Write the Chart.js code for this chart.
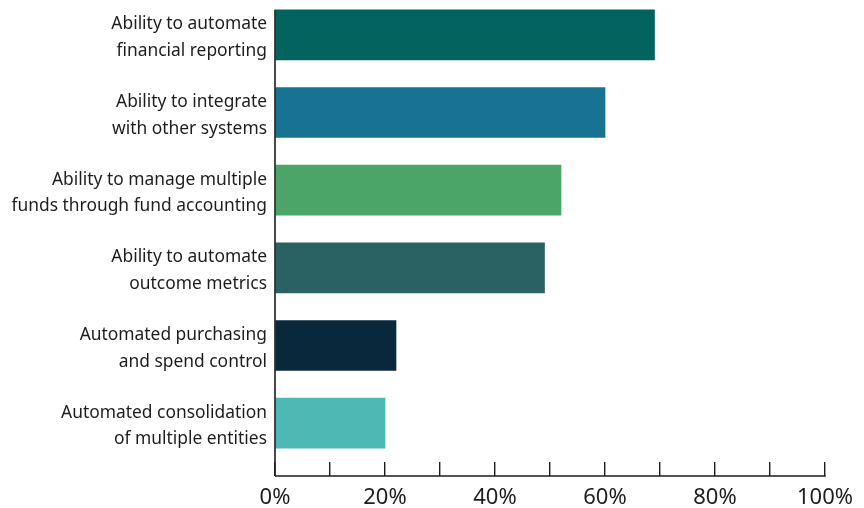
<!DOCTYPE html>
<html>
<head>
<meta charset="utf-8">
<script src="https://cdn.jsdelivr.net/npm/chart.js@4/dist/chart.umd.min.js"></script>
<style>
  html, body { margin: 0; padding: 0; background: #ffffff; overflow: hidden; }
  #wrap { position: absolute; left: 0; top: -4px; width: 864px; height: 512px; }
</style>
</head>
<body>
<div id="wrap"><canvas id="chart"></canvas></div>
<script>
// Capabilities and share of respondents (%)
const categories = [
  ["Ability to automate", "financial reporting"],
  ["Ability to integrate", "with other systems"],
  ["Ability to manage multiple", "funds through fund accounting"],
  ["Ability to automate", "outcome metrics"],
  ["Automated purchasing", "and spend control"],
  ["Automated consolidation", "of multiple entities"]
];
const shares = [69, 60, 52, 49, 22, 20];
const barColors = ["#03635E", "#187292", "#4BA568", "#2A6162", "#0A283C", "#4EB8B4"];
const labelledTicks = [0, 20, 40, 60, 80, 100];

const INK = "#1d1d1b";
const TICK_LEN = 14;

// Axis lines: the vertical one starts at the first bar, the horizontal one sits at the tick ends
const axisLines = {
  id: "axisLines",
  afterDraw(chart) {
    const { ctx, chartArea } = chart;
    const first = chart.getDatasetMeta(0).data[0];
    const top = first.y - first.height / 2;
    const base = chartArea.bottom + TICK_LEN;
    ctx.save();
    ctx.strokeStyle = INK;
    ctx.lineWidth = 1.6;
    ctx.beginPath();
    ctx.moveTo(chartArea.left, top);
    ctx.lineTo(chartArea.left, base);
    ctx.moveTo(chartArea.left, base);
    ctx.lineTo(chartArea.right + 0.8, base);
    ctx.stroke();
    ctx.restore();
  }
};

new Chart(document.getElementById("chart"), {
  type: "bar",
  data: {
    labels: categories,
    datasets: [{
      data: shares,
      backgroundColor: barColors,
      borderWidth: 0,
      barThickness: 50
    }]
  },
  options: {
    indexAxis: "y",
    responsive: true,
    maintainAspectRatio: false,
    animation: false,
    layout: { padding: { left: 0, right: 39, top: 0, bottom: 0 } },
    plugins: { legend: { display: false }, tooltip: { enabled: false } },
    scales: {
      x: {
        min: 0,
        max: 100,
        afterFit(scale) { scale.height = 46; },
        border: { display: false },
        grid: {
          drawOnChartArea: false,
          drawTicks: true,
          tickLength: TICK_LEN,
          color: INK,
          lineWidth: 1.4
        },
        ticks: {
          stepSize: 10,
          padding: 9,
          maxRotation: 0,
          autoSkip: false,
          color: INK,
          font: { family: "'Noto Sans', sans-serif", size: 22 },
          callback: (v) => labelledTicks.includes(v) ? v + "%" : ""
        }
      },
      y: {
        afterFit(scale) {
          scale.width = 275;
          scale.paddingTop = 0;
          scale.paddingBottom = 0;
        },
        border: { display: false },
        grid: { display: false, drawTicks: false },
        ticks: {
          padding: 8,
          labelOffset: 3,
          color: INK,
          font: { family: "'Noto Sans', sans-serif", size: 17.4, lineHeight: 1.53 }
        }
      }
    }
  },
  plugins: [axisLines]
});
</script>
</body>
</html>
